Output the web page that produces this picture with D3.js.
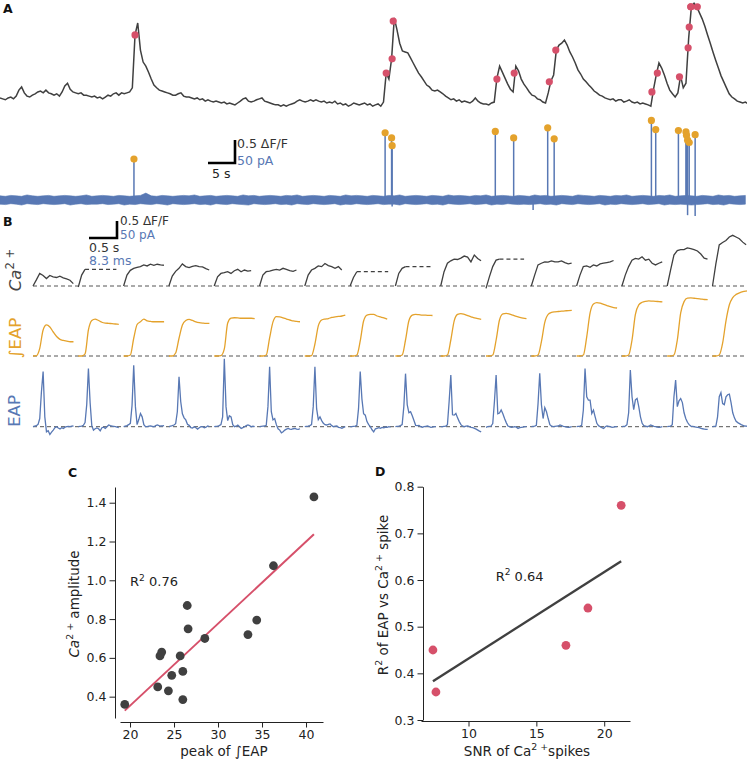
<!DOCTYPE html>
<html>
<head>
<meta charset="utf-8">
<script src="https://cdn.jsdelivr.net/npm/d3@7"></script>
<style>
body { margin: 0; background: #fff; }
svg { display: block; font-family: "DejaVu Sans", sans-serif; }
</style>
</head>
<body>
<div id="fig"></div>
<script>
// ---------- panel A : whole recording ----------
// Ca2+ trace, dF/F, one sample every 0.5 s
var caDt = 0.5;
var caTrace = [
  0.11,0.09,0.07,0.11,0.13,0.09,0.15,0.28,0.35,0.22,0.15,0.13,0.17,0.2,0.24,0.26,0.22,0.28,0.22,0.2,
  0.17,0.2,0.15,0.24,0.37,0.43,0.3,0.24,0.22,0.2,0.22,0.17,0.17,0.15,0.13,0.15,0.11,0.13,0.09,0.13,
  0.17,0.15,0.2,0.22,0.17,0.22,0.2,0.22,0.24,0.33,1.48,1.74,1.15,0.89,0.8,0.67,0.52,0.39,0.33,0.28,
  0.26,0.24,0.22,0.2,0.17,0.17,0.2,0.22,0.15,0.13,0.13,0.11,0.09,0.11,0.07,0.09,0.04,0.07,0.04,0.02,
  0.04,0.02,0,0.02,-0.02,0,-0.02,-0.04,0,0.04,0.09,0.11,0.04,0.02,0.04,0.07,0.09,0.11,0.04,0.02,
  0,-0.02,-0.04,-0.04,-0.07,-0.04,-0.07,-0.04,-0.02,0,0.04,0.07,0.04,0.02,0.04,0.07,0.04,0.07,0.04,0.02,
  0.04,0,0.02,0,0.04,-0.02,0,-0.04,-0.02,-0.07,-0.04,0,-0.02,-0.04,-0.02,0,-0.04,-0.02,-0.07,-0.04,
  -0.02,-0.07,0.02,0.65,0.52,0.96,1.85,1.59,1.3,1.13,1.11,1.09,0.98,0.87,0.76,0.65,0.57,0.48,0.39,0.35,
  0.28,0.26,0.28,0.24,0.2,0.15,0.11,0.07,0.09,0.04,0.07,0.02,0.04,0.02,0,0.04,0.11,0.04,0,-0.02,
  -0.02,-0.04,0,0.02,0.54,0.8,0.67,0.54,0.41,0.3,0.24,0.8,0.7,0.52,0.41,0.33,0.24,0.17,0.15,0.09,
  0.07,0.02,0,0.22,0.48,0.61,1.15,1.26,1.3,1.37,1.26,1.11,1.0,0.87,0.72,0.63,0.52,0.46,0.39,0.33,
  0.26,0.22,0.17,0.15,0.11,0.09,0.07,0.09,0.04,0.07,0.07,0.02,0.04,0.07,0.02,0,0.02,-0.02,0,-0.02,
  -0.04,-0.07,0.3,0.61,0.87,0.76,0.61,0.43,0.28,0.2,0.13,0.22,0.59,0.33,0.43,1.41,2.09,2.17,2.09,1.96,
  1.83,1.67,1.48,1.3,1.11,0.93,0.76,0.59,0.46,0.33,0.2,0.13,0.09,0.04,0.02,0,0.02,-0.02
];
// EAP noise band, pA, upper / lower envelope per 1 s bin
var eapHi = [
  9,8,10,9,8,11,9,8,9,10,8,9,10,9,8,9,11,8,9,10,
  9,8,10,9,8,9,10,15,9,8,10,9,8,9,10,9,11,8,9,10,
  8,9,10,9,8,11,9,10,8,9,10,9,8,10,9,11,8,9,10,9,
  8,10,9,8,11,9,10,9,8,10,9,8,10,9,11,8,9,10,9,8,
  10,9,8,11,9,10,9,8,10,9,11,8,9,10,9,8,10,9,8,11,
  9,10,8,9,10,9,8,11,10,9,8,10,9,8,10,9,11,8,9,10,
  9,8,10,9,11,8,9,10,9,8,10,9,8,11,9,10,8,9,10
];
var eapLo = [
  -9,-10,-8,-9,-11,-8,-9,-10,-8,-9,-10,-9,-8,-11,-9,-8,-10,-9,-9,-8,
  -10,-9,-8,-11,-9,-10,-8,-9,-10,-8,-9,-11,-8,-9,-10,-9,-8,-10,-9,-11,
  -8,-9,-10,-8,-9,-10,-11,-8,-9,-10,-9,-8,-10,-9,-11,-8,-9,-10,-8,-9,
  -10,-9,-8,-11,-9,-10,-8,-9,-10,-9,-8,-10,-9,-9,-11,-8,-9,-10,-9,-8,
  -10,-9,-11,-8,-9,-10,-9,-8,-10,-9,-8,-11,-9,-10,-8,-9,-10,-9,-10,-9,
  -8,-10,-9,-11,-8,-9,-10,-8,-9,-10,-9,-8,-11,-9,-10,-8,-9,-10,-9,-8,
  -10,-9,-8,-11,-9,-10,-9,-10,-11,-10,-9,-8,-10,-9,-11,-8,-9,-10,-9
];
// downward EAP deflections (s, pA)
var negT = [72.6, 98.7, 127.3, 128.7];
var negV = [-14, -22, -33, -35];
// detected spikes: time (s), EAP amplitude (pA)
var spikeT = [24.8, 71.3, 72.5, 72.6, 91.7, 95.1, 101.4, 102.6, 120.6, 121.4, 125.6, 127.0, 127.1, 127.3, 127.6, 128.7];
var spikeAmp = [89, 146, 135, 118, 149, 135, 157, 133, 173, 153, 151, 148, 141, 130, 125, 142];
// Ca2+ value marked at each spike
var caDotT = [25.0, 71.5, 72.6, 72.8, 92.0, 95.2, 101.7, 102.9, 120.7, 121.7, 125.8, 127.4, 127.6, 127.9, 127.9, 129.1];
var caDotV = [1.48, 0.65, 0.96, 1.78, 0.52, 0.65, 0.46, 1.15, 0.24, 0.65, 0.57, 1.2, 1.65, 2.09, 2.09, 2.09];

// ---------- panel B : single events, sorted by peak of integral ----------
var caColDt = 0.06; // s
var caCols = [
  [0,0.18,0.37,0.31,0.22,0.31,0.27,0.25,0.29,0.24,0.21,0.17,0.07],
  [-0.03,0.32,0.49],
  [0,0.32,0.46,0.52,0.55,0.57,0.62,0.59,0.64,0.61,0.64,0.62,0.61],
  [0,0.29,0.43,0.52,0.65,0.57,0.54,0.58,0.6,0.57,0.56,0.51,0.47],
  [0,0.27,0.37,0.39,0.42,0.37,0.45,0.49,0.42,0.47,0.44,0.45],
  [0,0.32,0.42,0.44,0.47,0.49,0.47,0.52,0.49,0.45,0.43,0.47],
  [0,0.32,0.47,0.52,0.59,0.57,0.66,0.6,0.57,0.52,0.57,0.47],
  [0,0.25,0.42],
  [0,0.37,0.52,0.57],
  [0,0.42,0.67,0.74,0.79,0.78,0.82,0.88,0.85,0.71,0.91,0.81,0.74],
  [-0.07,0.27,0.57,0.76,0.79],
  [0,0.32,0.62,0.67,0.71,0.7,0.74,0.71,0.71,0.74,0.69,0.65,0.67],
  [0,0.32,0.57,0.59,0.55,0.62,0.59,0.65,0.67,0.69,0.71,0.75],
  [0,0.32,0.57,0.76,0.81,0.79,0.86,0.76,0.79,0.67,0.62,0.67,0.71],
  [0,0.47,0.91,1.04,1.07,1.07,1.12,1.1,1.07,1.03,0.94,0.82,0.79],
  [0,0.65,1.21,1.28,1.34,1.44,1.49,1.44,1.39,1.29,1.21]
];
var caDashed = [false,true,false,false,false,false,false,true,true,false,true,false,false,false,false,false];
var caDashEnd = 0.68; // s
var intDt = 1; // ms
var intCols = [
  [0,0.2,4.8,16.3,19.4,18.1,15,12.2,10.4,9.7,9.3,8.9,8.9],
  [0,0,1.3,16.3,22.2,23.1,22.2,21.1,20.6,20.4,20.2,20,19.8],
  [0,0,0.6,11.1,19.7,21.4,23.1,21.9,21.6,21.4,21.4,21.4,21.4],
  [0,0,1.9,11.1,19.4,22.2,22.9,22.2,21.4,20.9,20.6,20.4,20.4],
  [0,0,0.2,4.4,20.6,23.6,23.9,23.8,23.6,23.6,23.6,23.6,23.4],
  [0,0,0.6,11.3,21.3,24.6,24.4,23.8,23.1,22.5,21.9,21.6,21.4],
  [0,0,0.3,7.5,18.8,22.5,23.1,23.4,24.1,24.4,24.7,25,25.6],
  [0,0,0.6,9.4,21.9,25.6,26,26,25,24.4,23.8,23.1],
  [0,0,0.6,10,22,25.5,26,25.8,25.6,25.5,25.4,25.3],
  [0,0,0.6,10,22,26,26.5,26,25.2,24.5,23.8,23.3,22.9],
  [0,0,0.6,10,22.5,26.3,26.6,26.2,25.5,24.8,24.2,23.7,23.4],
  [0,0,0.6,9,21,26,27.2,27.6,27.8,28,28.2,28.4,28.5],
  [0,0,0.6,12,27,32.5,33.4,33,32.2,31.5,30.8,30.3,30],
  [0,0,0.6,10,26,32,33.6,34.2,34.4,34.3,34.2,34,33.8],
  [0,0,0.6,10,27,34,36.2,36.3,36.1,35.9,35.6,35.3,35.2],
  [0,0,0.6,8,22,32,36.5,38.5,39.5,40.2,40.6,40.9]
];
var eapDt = 0.5; // ms
var eapCols = [
  [0,1.5,3,7,24,103,162,29,-15,-12,-23,-16,-10,-3,0,-4,-7,-3,-5,-1.5,0,1,0,1.5,2],
  [0,1,1.5,4,12,65,171,71,3,-10,-6,-3.5,-6,-12,-3,-1.5,-5,0,5,3,2,1,0,-1.5,-3],
  [0,1.5,3,6,10,62,181,59,6,21,39,29,6,0,0,1.5,2,1,0,3,5,3,2,2.5,3],
  [0,1.5,3,5,9,44,147,74,38,26,20,7,4,-3,-4,0,-3,-7,-3,0,0,-3,-1.5,2,0],
  [0,1,1.5,3,6,29,200,59,18,32,29,6,0,1.5,5,0,-5,-3,0,3,5,3,0,1.5,0],
  [0,1,1.5,2,4,59,176,44,20,24,6,-6,-10,-18,-15,-10,-7,-5,-7,-8,-6,-5,-7,-8,-6],
  [0,1,1.5,3,6,59,176,53,21,29,18,10,6,5,7,8,3,0,1.5,2,-2,-3,-5,-2,0],
  [0,0,1,2,4,53,162,82,38,34,15,6,0,-9,-15,-6,-5,-3,-5,-2,-3,-1,-2,0,-1],
  [0,1,1.5,3,6,59,156,65,41,44,32,18,4,3,4,0,-1.5,0,1,2,0,-2,-1,0,0],
  [0,0,1,2,6,74,152,35,34,39,26,15,6,1.5,0,1.5,2,0,-2,-3,-5,-7,-10,-13,-15],
  [-2,0,1,2,9,74,152,38,40,49,38,24,12,2,0,-2,-1,0,-1.5,-5,-3,-2,-1,0,0],
  [0,1,2,4,68,157,65,24,56,44,24,6,1.5,0,1,1.5,2,5,3,1,0,-1,-2,-1,0],
  [0,1,2,4,49,171,88,78,78,39,49,29,10,3,0,-3,-5,0,2,1,0,-2,-1,0,0],
  [0,1,2,6,41,167,88,50,79,83,59,29,10,3,1.5,0,1.5,5,3,1,0,-1,-2,-1,0],
  [0,1,2,6,88,137,59,76,83,71,41,24,13,6,2,1,0,-1,-2,-3,-5,-6,-7,-8,-8],
  [0,1,1.5,29,88,100,68,65,88,94,96,71,41,26,16,12,9,6,4,2,1.5,1,0,0,0]
];

// ---------- panel C ----------
var cPeakInt = [19.4, 23.15, 23.4, 23.6, 24.36, 24.74, 25.7, 26.0, 26.0, 26.5, 26.6, 28.5, 33.4, 34.4, 36.3, 40.9];
var cCaAmp = [0.36, 0.45, 0.61, 0.63, 0.43, 0.51, 0.61, 0.53, 0.385, 0.87, 0.75, 0.70, 0.72, 0.795, 1.075, 1.43];
var cR2 = '0.76';
var cXTicks = [20, 25, 30, 35, 40];
var cYTicks = [0.4, 0.6, 0.8, 1.0, 1.2, 1.4];

// ---------- panel D ----------
var dSnr = [7.38, 7.6, 17.18, 18.8, 21.25];
var dR2 = [0.45, 0.36, 0.46, 0.54, 0.76];
var dR2Fit = '0.64';
var dXTicks = [10, 15, 20];
var dYTicks = [0.3, 0.4, 0.5, 0.6, 0.7, 0.8];

var colGray = '#404040', colBlue = '#5878b4', colOrange = '#e4a22c', colRed = '#d6506a';

var svg = d3.select('#fig').append('svg')
  .attr('width', 747)
  .attr('height', 765);

// text with italic / superscript pieces
function rich(sel, parts, size) {
  var up = false;
  parts.forEach(function(p) {
    var t = sel.append('tspan').text(p[0]);
    if (p[1] === 'i') t.style('font-style', 'italic');
    if (p[1] === 's') {
      t.attr('font-size', size * 0.7).attr('dy', -size * 0.42);
      up = true;
    } else if (up) {
      t.attr('dy', size * 0.42);
      up = false;
    }
  });
  return sel;
}

function panelLetter(txt, x, y) {
  svg.append('text').attr('x', x).attr('y', y).text(txt)
    .attr('font-size', 12.5).attr('font-weight', 'bold').attr('fill', '#111');
}

// ===== A =====
var xA = d3.scaleLinear().domain([0, 138.3]).range([0, 747]);
var yCaA = d3.scaleLinear().domain([0, 1]).range([103, 57]);
var yEapA = d3.scaleLinear().domain([0, 50]).range([200, 177]);

panelLetter('A', 3, 13);

svg.append('path')
  .datum(caTrace)
  .attr('d', d3.line().x(function(d, i) { return xA(i * caDt); }).y(function(d) { return yCaA(d); }))
  .attr('fill', 'none').attr('stroke', colGray).attr('stroke-width', 1.5);

svg.append('path')
  .datum(eapHi)
  .attr('d', d3.area()
    .x(function(d, i) { return xA(i); })
    .y0(function(d, i) { return yEapA(eapLo[i]); })
    .y1(function(d) { return yEapA(d); }))
  .attr('fill', colBlue).attr('stroke', colBlue).attr('stroke-width', 0.6);

svg.selectAll('.neg')
  .data(negT)
  .enter().append('line')
  .attr('x1', function(d) { return xA(d); })
  .attr('x2', function(d) { return xA(d); })
  .attr('y1', yEapA(0))
  .attr('y2', function(d, i) { return yEapA(negV[i]); })
  .attr('stroke', colBlue).attr('stroke-width', 1.5);

svg.selectAll('.spk')
  .data(spikeT)
  .enter().append('line')
  .attr('x1', function(d) { return xA(d); })
  .attr('x2', function(d) { return xA(d); })
  .attr('y1', yEapA(0))
  .attr('y2', function(d, i) { return yEapA(spikeAmp[i]); })
  .attr('stroke', colBlue).attr('stroke-width', 1.5);

svg.selectAll('.spkdot')
  .data(spikeT)
  .enter().append('circle')
  .attr('cx', function(d) { return xA(d); })
  .attr('cy', function(d, i) { return yEapA(spikeAmp[i]); })
  .attr('r', 3.6).attr('fill', colOrange);

svg.selectAll('.cadot')
  .data(caDotT)
  .enter().append('circle')
  .attr('cx', function(d) { return xA(d); })
  .attr('cy', function(d, i) { return yCaA(caDotV[i]); })
  .attr('r', 3.6).attr('fill', colRed);

// scale bar A
(function() {
  var cx = 235, cy = 163;
  var w = xA(5) - xA(0), h = yCaA(0) - yCaA(0.5);
  svg.append('path')
    .attr('d', 'M' + (cx - w) + ',' + cy + 'H' + cx + 'V' + (cy - h))
    .attr('fill', 'none').attr('stroke', '#000').attr('stroke-width', 2.6);
  svg.append('text').attr('x', cx + 2).attr('y', 148).text('0.5 ΔF/F').attr('font-size', 12.5).attr('fill', '#333');
  svg.append('text').attr('x', cx + 2).attr('y', 164.5).text('50 pA').attr('font-size', 12.5).attr('fill', colBlue);
  svg.append('text').attr('x', cx - w + 4).attr('y', 178).text('5 s').attr('font-size', 12.5).attr('fill', '#222');
})();

// ===== B =====
panelLetter('B', 3, 226);

var colX = d3.scaleLinear().domain([0, 15]).range([33, 712.5]);
var tCa = d3.scaleLinear().domain([0, 0.5]).range([0, 28]);
var tEap = d3.scaleLinear().domain([0, 8.3]).range([0, 28]);
var yCaB = d3.scaleLinear().domain([0, 0.5]).range([286, 269]);
var yIntB = d3.scaleLinear().domain([0, 10]).range([356, 340]);
var yEapB = d3.scaleLinear().domain([0, 50]).range([426.7, 409.7]);

[yCaB(0), yIntB(0), yEapB(0)].forEach(function(y) {
  svg.append('line').attr('x1', 33).attr('x2', 747).attr('y1', y).attr('y2', y)
    .attr('stroke', '#555').attr('stroke-width', 1).attr('stroke-dasharray', '4,3');
});

var cols = svg.selectAll('.col')
  .data(d3.range(16))
  .enter().append('g')
  .attr('class', 'col')
  .attr('transform', function(j) { return 'translate(' + colX(j) + ',0)'; });

cols.append('path')
  .attr('d', function(j) {
    return d3.line().x(function(d, i) { return tCa(i * caColDt); }).y(function(d) { return yCaB(d); })(caCols[j]);
  })
  .attr('fill', 'none').attr('stroke', colGray).attr('stroke-width', 1.3);

cols.filter(function(j) { return caDashed[j]; })
  .append('line')
  .attr('x1', function(j) { return tCa((caCols[j].length - 1) * caColDt); })
  .attr('x2', tCa(caDashEnd))
  .attr('y1', function(j) { return yCaB(caCols[j][caCols[j].length - 1]); })
  .attr('y2', function(j) { return yCaB(caCols[j][caCols[j].length - 1]); })
  .attr('stroke', colGray).attr('stroke-width', 1.3).attr('stroke-dasharray', '4,3');

cols.append('path')
  .attr('d', function(j) {
    return d3.line().curve(d3.curveMonotoneX)
      .x(function(d, i) { return tEap(i * intDt); }).y(function(d) { return yIntB(d); })(intCols[j]);
  })
  .attr('fill', 'none').attr('stroke', colOrange).attr('stroke-width', 1.3);

cols.append('path')
  .attr('d', function(j) {
    return d3.line().x(function(d, i) { return tEap(i * eapDt); }).y(function(d) { return yEapB(d); })(eapCols[j]);
  })
  .attr('fill', 'none').attr('stroke', colBlue).attr('stroke-width', 1.3);

// row labels
rich(svg.append('text').attr('transform', 'translate(21,270) rotate(-90)')
  .attr('text-anchor', 'middle').attr('font-size', 16.5).attr('fill', '#444'),
  [['Ca', 'i'], ['2 +', 's']], 16.5);
svg.append('text').attr('transform', 'translate(21,338) rotate(-90)')
  .attr('text-anchor', 'middle').attr('font-size', 16.5).attr('fill', colOrange).text('∫EAP');
svg.append('text').attr('transform', 'translate(20,411) rotate(-90)')
  .attr('text-anchor', 'middle').attr('font-size', 16.5).attr('fill', colBlue).text('EAP');

// scale bar B
(function() {
  var cx = 117, cy = 238;
  var w = tCa(0.5), h = yCaB(0) - yCaB(0.5);
  svg.append('path')
    .attr('d', 'M' + (cx - w) + ',' + cy + 'H' + cx + 'V' + (cy - h))
    .attr('fill', 'none').attr('stroke', '#000').attr('stroke-width', 2.6);
  svg.append('text').attr('x', cx + 3).attr('y', 225).text('0.5 ΔF/F').attr('font-size', 12).attr('fill', '#333');
  svg.append('text').attr('x', cx + 3).attr('y', 239).text('50 pA').attr('font-size', 12).attr('fill', colBlue);
  svg.append('text').attr('x', cx - w).attr('y', 251.5).text('0.5 s').attr('font-size', 12.5).attr('fill', '#333');
  svg.append('text').attr('x', cx - w).attr('y', 265).text('8.3 ms').attr('font-size', 12.5).attr('fill', colBlue);
})();

// ===== scatter panels =====
function fit(xs, ys) {
  var mx = d3.mean(xs), my = d3.mean(ys);
  var sxy = d3.sum(xs, function(x, i) { return (x - mx) * (ys[i] - my); });
  var sxx = d3.sum(xs, function(x) { return (x - mx) * (x - mx); });
  var b = sxy / sxx;
  return { b: b, a: my - b * mx };
}

function axes(x, y, xAt, yAt, xTicks, yTicks, xMinor, yMinor, yFmt) {
  var gy = svg.append('g').attr('transform', 'translate(' + yAt + ',0)');
  gy.call(d3.axisLeft(y).tickValues(yMinor).tickSize(3).tickSizeOuter(0).tickFormat(''));
  gy.call(d3.axisLeft(y).tickValues(yTicks).tickSize(5.5).tickSizeOuter(0).tickPadding(3).tickFormat(yFmt));
  var gx = svg.append('g').attr('transform', 'translate(0,' + xAt + ')');
  gx.call(d3.axisBottom(x).tickValues(xMinor).tickSize(3).tickSizeOuter(0).tickFormat(''));
  gx.call(d3.axisBottom(x).tickValues(xTicks).tickSize(5.5).tickSizeOuter(0).tickPadding(3).tickFormat(d3.format('d')));
  [gx, gy].forEach(function(g) {
    g.selectAll('text').attr('font-size', 12.5).attr('fill', '#222').style('font-family', '"DejaVu Sans", sans-serif');
    g.selectAll('line,path').attr('stroke', '#222');
  });
}

// ===== C =====
panelLetter('C', 68, 477);
var xC = d3.scaleLinear().domain([18.86, 41.93]).range([120, 323]);
var yC = d3.scaleLinear().domain([0.29, 1.481]).range([718, 487]);
axes(xC, yC, 722, 115, cXTicks, cYTicks, d3.range(19, 42, 1), d3.range(0.3, 1.48, 0.05), d3.format('.1f'));

var fc = fit(cPeakInt, cCaAmp);
var cx0 = d3.min(cPeakInt), cx1 = d3.max(cPeakInt);
svg.append('line')
  .attr('x1', xC(cx0)).attr('y1', yC(fc.a + fc.b * cx0))
  .attr('x2', xC(cx1)).attr('y2', yC(fc.a + fc.b * cx1))
  .attr('stroke', colRed).attr('stroke-width', 2);
svg.selectAll('.cdot')
  .data(cPeakInt)
  .enter().append('circle')
  .attr('cx', function(d) { return xC(d); })
  .attr('cy', function(d, i) { return yC(cCaAmp[i]); })
  .attr('r', 4.4).attr('fill', colGray);
rich(svg.append('text').attr('x', xC(20)).attr('y', yC(0.97)).attr('font-size', 13).attr('fill', '#222'),
  [['R', 'n'], ['2', 's'], [' ' + cR2, 'n']], 13);
rich(svg.append('text').attr('transform', 'translate(79,604) rotate(-90)')
  .attr('text-anchor', 'middle').attr('font-size', 13.5).attr('fill', '#222'),
  [['Ca', 'i'], ['2 +', 's'], [' amplitude', 'n']], 13.5);
svg.append('text').attr('x', 224).attr('y', 756).attr('text-anchor', 'middle')
  .attr('font-size', 13.5).attr('fill', '#222').text('peak of ∫EAP');

// ===== D =====
panelLetter('D', 375, 476);
var xD = d3.scaleLinear().domain([6.5, 21.9]).range([421, 630]);
var yD = d3.scaleLinear().domain([0.3, 0.8]).range([720, 486.7]);
axes(xD, yD, 721, 423, dXTicks, dYTicks, d3.range(7, 22, 1), d3.range(0.3, 0.801, 0.02), d3.format('.1f'));

var fd = fit(dSnr, dR2);
var dx0 = d3.min(dSnr), dx1 = d3.max(dSnr);
svg.append('line')
  .attr('x1', xD(dx0)).attr('y1', yD(fd.a + fd.b * dx0))
  .attr('x2', xD(dx1)).attr('y2', yD(fd.a + fd.b * dx1))
  .attr('stroke', colGray).attr('stroke-width', 2.4);
svg.selectAll('.ddot')
  .data(dSnr)
  .enter().append('circle')
  .attr('cx', function(d) { return xD(d); })
  .attr('cy', function(d, i) { return yD(dR2[i]); })
  .attr('r', 4.4).attr('fill', colRed);
rich(svg.append('text').attr('x', xD(12)).attr('y', yD(0.598)).attr('font-size', 13).attr('fill', '#222'),
  [['R', 'n'], ['2', 's'], [' ' + dR2Fit, 'n']], 13);
rich(svg.append('text').attr('transform', 'translate(388,595) rotate(-90)')
  .attr('text-anchor', 'middle').attr('font-size', 13.5).attr('fill', '#222'),
  [['R', 'n'], ['2', 's'], [' of EAP vs Ca', 'n'], ['2 +', 's'], [' spike', 'n']], 13.5);
rich(svg.append('text').attr('x', 527).attr('y', 756).attr('text-anchor', 'middle')
  .attr('font-size', 13.5).attr('fill', '#222'),
  [['SNR of Ca', 'n'], ['2 +', 's'], ['spikes', 'n']], 13.5);
</script>
</body>
</html>
